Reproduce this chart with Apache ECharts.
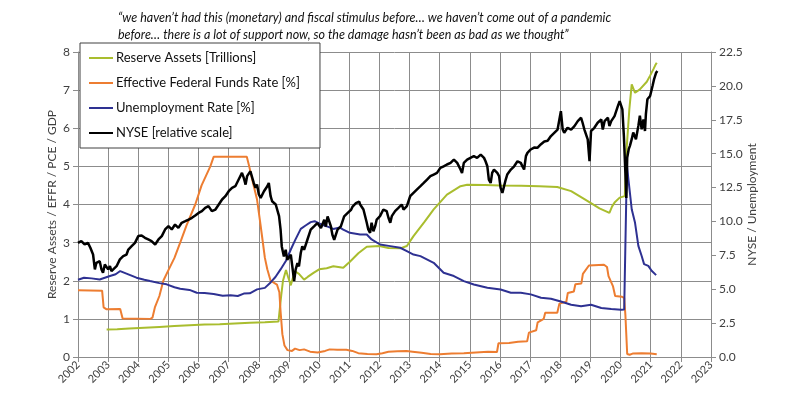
<!DOCTYPE html>
<html>
<head>
<meta charset="utf-8">
<script src="https://cdn.jsdelivr.net/npm/echarts@6/dist/echarts.min.js"></script>
<style>
  html, body { margin: 0; padding: 0; background: #fff; }
  #chart { width: 787px; height: 396px; }
</style>
</head>
<body>
<div id="chart"></div>
<script>
// [decimal year, value]
const reserveAssets = [
    [2002.95,0.72],[2003.3,0.73],[2003.7,0.75],[2004.2,0.77],[2004.7,0.79],[2005.2,0.81],[2005.7,0.83],
    [2006.2,0.85],[2006.7,0.86],[2007.2,0.88],[2007.7,0.9],[2008.2,0.91],[2008.65,0.93],[2008.7,0.97],
    [2008.74,1.6],[2008.8,2.0],[2008.9,2.28],[2008.97,2.1],[2009.06,1.88],[2009.12,2.05],[2009.2,2.25],
    [2009.33,2.18],[2009.5,2.03],[2009.62,2.1],[2009.8,2.2],[2010.0,2.3],[2010.25,2.33],[2010.47,2.38],
    [2010.8,2.34],[2011.02,2.5],[2011.3,2.72],[2011.58,2.89],[2012.0,2.91],[2012.3,2.86],[2012.69,2.85],
    [2012.91,2.91],[2013.13,3.17],[2013.5,3.55],[2013.8,3.87],[2014.24,4.26],[2014.69,4.48],[2014.91,4.52],
    [2015.5,4.51],[2016.0,4.5],[2016.7,4.49],[2017.3,4.48],[2017.9,4.46],[2018.36,4.35],[2018.91,4.09],
    [2019.3,3.9],[2019.63,3.78],[2019.72,3.95],[2019.8,4.05],[2019.97,4.18],[2020.14,4.22],[2020.2,5.45],
    [2020.29,6.49],[2020.37,7.15],[2020.48,6.93],[2020.64,7.02],[2020.87,7.22],[2020.98,7.38],[2021.09,7.55],
    [2021.15,7.65],[2021.2,7.72]
];

const fedFundsRate = [
    [2002.0,1.75],[2002.8,1.74],[2002.85,1.3],[2002.95,1.25],[2003.4,1.26],[2003.48,1.01],[2004.4,1.0],
    [2004.47,1.03],[2004.55,1.3],[2004.7,1.6],[2004.83,2.0],[2005.0,2.28],[2005.2,2.6],[2005.39,3.0],
    [2005.6,3.45],[2005.89,4.0],[2006.1,4.5],[2006.39,5.0],[2006.5,5.25],[2007.6,5.25],[2007.68,5.0],
    [2007.78,4.65],[2007.94,4.13],[2008.05,3.5],[2008.1,3.2],[2008.2,2.6],[2008.28,2.3],[2008.39,2.0],
    [2008.6,1.9],[2008.68,1.7],[2008.72,1.2],[2008.78,0.6],[2008.85,0.3],[2008.95,0.18],[2009.1,0.16],
    [2009.2,0.22],[2009.35,0.18],[2009.5,0.2],[2009.7,0.14],[2009.95,0.12],[2010.2,0.16],[2010.35,0.2],
    [2010.6,0.19],[2010.9,0.19],[2011.1,0.16],[2011.3,0.1],[2011.6,0.08],[2011.9,0.07],[2012.1,0.1],
    [2012.3,0.14],[2012.6,0.15],[2012.9,0.16],[2013.1,0.14],[2013.4,0.11],[2013.7,0.08],[2014.0,0.07],
    [2014.4,0.09],[2014.8,0.1],[2015.2,0.12],[2015.6,0.14],[2015.9,0.13],[2015.95,0.36],[2016.3,0.37],
    [2016.6,0.4],[2016.9,0.41],[2016.96,0.64],[2017.2,0.7],[2017.25,0.91],[2017.45,1.0],[2017.5,1.16],
    [2017.9,1.16],[2017.97,1.4],[2018.2,1.45],[2018.25,1.68],[2018.45,1.72],[2018.5,1.91],[2018.7,1.93],
    [2018.75,2.18],[2018.95,2.4],[2019.45,2.42],[2019.55,2.36],[2019.6,2.12],[2019.75,1.85],[2019.82,1.6],
    [2020.05,1.58],[2020.12,1.55],[2020.16,1.1],[2020.22,0.08],[2020.3,0.06],[2020.4,0.09],[2020.7,0.1],
    [2021.0,0.09],[2021.2,0.07]
];

const unemploymentRate = [
    [2002.0,5.7],[2002.2,5.85],[2002.45,5.8],[2002.72,5.72],[2003.06,5.97],[2003.25,6.1],[2003.4,6.34],
    [2003.67,6.1],[2003.94,5.85],[2004.2,5.7],[2004.39,5.6],[2004.7,5.45],[2004.94,5.36],[2005.2,5.15],
    [2005.39,5.03],[2005.7,4.95],[2005.94,4.74],[2006.2,4.72],[2006.5,4.65],[2006.8,4.52],[2007.06,4.55],
    [2007.3,4.5],[2007.5,4.68],[2007.7,4.7],[2007.94,4.99],[2008.2,5.1],[2008.39,5.5],[2008.55,5.9],
    [2008.72,6.46],[2008.9,7.1],[2009.06,7.93],[2009.2,8.6],[2009.39,9.45],[2009.55,9.7],[2009.72,9.95],
    [2009.85,10.02],[2010.0,9.85],[2010.24,9.65],[2010.47,9.45],[2010.69,9.55],[2010.8,9.4],[2011.02,9.16],
    [2011.36,9.04],[2011.58,9.04],[2011.74,8.67],[2012.02,8.3],[2012.36,8.18],[2012.69,8.06],[2012.91,7.81],
    [2013.13,7.56],[2013.36,7.44],[2013.8,6.95],[2014.13,6.21],[2014.47,5.97],[2014.8,5.6],[2015.13,5.35],
    [2015.58,5.11],[2016.02,4.98],[2016.36,4.74],[2016.69,4.74],[2017.02,4.62],[2017.36,4.37],[2017.69,4.3],
    [2018.02,4.1],[2018.36,3.86],[2018.69,3.74],[2019.02,3.86],[2019.36,3.62],[2019.69,3.54],[2020.02,3.49],
    [2020.12,3.5],[2020.17,3.6],[2020.21,14.2],[2020.26,13.1],[2020.37,10.9],[2020.48,9.9],[2020.59,8.2],
    [2020.7,7.45],[2020.78,6.85],[2020.92,6.72],[2021.03,6.36],[2021.18,6.04]
];

const nyseIndex = [
    [2002.0,8.42],[2002.11,8.55],[2002.22,8.3],[2002.33,8.42],[2002.41,8.06],[2002.5,7.56],[2002.56,6.46],
    [2002.61,6.95],[2002.67,6.83],[2002.72,7.07],[2002.78,6.46],[2002.83,6.21],[2002.89,6.83],[2002.94,6.95],
    [2003.0,6.46],[2003.06,6.7],[2003.11,6.34],[2003.17,6.21],[2003.28,6.7],[2003.39,7.2],[2003.5,7.44],
    [2003.61,7.56],[2003.67,7.93],[2003.78,8.18],[2003.89,8.42],[2004.0,8.92],[2004.11,8.96],[2004.22,8.79],
    [2004.33,8.67],[2004.44,8.55],[2004.56,8.3],[2004.67,8.67],[2004.78,8.92],[2004.89,9.41],[2005.0,9.65],
    [2005.11,9.41],[2005.22,9.77],[2005.33,9.53],[2005.44,9.9],[2005.56,10.02],[2005.67,10.14],[2005.78,10.27],
    [2005.89,10.44],[2006.0,10.63],[2006.11,10.76],[2006.22,11.0],[2006.33,11.13],[2006.44,10.76],[2006.56,10.88],
    [2006.67,11.25],[2006.78,11.62],[2006.89,11.86],[2007.0,12.23],[2007.11,12.48],[2007.22,12.6],[2007.33,13.09],
    [2007.39,12.97],[2007.44,13.58],[2007.5,13.21],[2007.56,12.72],[2007.61,13.34],[2007.67,13.46],[2007.72,13.7],
    [2007.78,13.58],[2007.83,12.84],[2007.89,12.48],[2007.94,12.72],[2008.0,11.99],[2008.06,11.74],[2008.11,11.86],
    [2008.17,12.23],[2008.28,12.6],[2008.33,12.84],[2008.39,11.86],[2008.44,11.49],[2008.56,11.25],[2008.61,11.13],
    [2008.67,10.39],[2008.72,9.41],[2008.76,8.16],[2008.83,7.42],[2008.89,7.91],[2008.94,7.18],[2009.06,7.55],
    [2009.11,6.68],[2009.17,5.6],[2009.22,6.44],[2009.28,6.93],[2009.33,6.68],[2009.39,7.67],[2009.44,8.16],
    [2009.5,7.91],[2009.61,8.65],[2009.72,9.39],[2009.83,9.63],[2009.94,9.88],[2010.06,9.51],[2010.17,10.12],
    [2010.22,9.63],[2010.28,10.37],[2010.39,9.63],[2010.44,9.02],[2010.5,8.65],[2010.61,9.39],[2010.72,9.63],
    [2010.83,10.37],[2010.94,10.61],[2011.06,10.86],[2011.11,11.1],[2011.22,11.35],[2011.33,11.47],[2011.36,11.25],
    [2011.41,11.37],[2011.47,10.88],[2011.52,10.76],[2011.58,9.9],[2011.63,9.41],[2011.69,9.16],[2011.74,9.9],
    [2011.8,9.28],[2011.86,9.65],[2011.91,10.14],[2012.02,10.39],[2012.13,10.88],[2012.19,11.0],[2012.24,10.76],
    [2012.3,10.27],[2012.36,9.9],[2012.41,10.39],[2012.52,10.76],[2012.63,11.0],[2012.74,11.25],[2012.8,10.88],
    [2012.91,11.13],[2013.02,11.86],[2013.13,12.11],[2013.24,12.35],[2013.36,12.6],[2013.47,12.84],[2013.58,13.09],
    [2013.69,13.34],[2013.8,13.46],[2013.91,13.58],[2014.02,13.95],[2014.13,14.07],[2014.24,14.2],[2014.36,14.32],
    [2014.47,14.56],[2014.52,14.69],[2014.58,14.32],[2014.63,14.44],[2014.69,13.83],[2014.74,13.58],[2014.8,14.32],
    [2014.86,14.2],[2014.91,14.56],[2015.02,14.69],[2015.13,14.81],[2015.24,14.69],[2015.36,14.93],[2015.47,14.69],
    [2015.52,14.44],[2015.58,14.07],[2015.63,13.09],[2015.69,12.84],[2015.74,13.58],[2015.8,13.83],[2015.91,13.58],
    [2015.97,13.34],[2016.02,12.48],[2016.08,12.11],[2016.13,12.23],[2016.19,13.09],[2016.24,13.46],[2016.36,13.83],
    [2016.47,14.07],[2016.58,14.44],[2016.69,14.32],[2016.74,14.08],[2016.8,13.83],[2016.86,14.82],[2016.91,15.06],
    [2017.02,15.31],[2017.13,15.45],[2017.24,15.43],[2017.36,15.7],[2017.47,15.9],[2017.58,15.95],[2017.69,16.3],
    [2017.8,16.54],[2017.91,16.78],[2017.97,17.52],[2018.02,18.14],[2018.08,16.78],[2018.13,16.54],[2018.24,16.91],
    [2018.36,16.78],[2018.47,17.03],[2018.58,17.4],[2018.69,17.65],[2018.74,17.28],[2018.8,16.78],[2018.91,16.05],
    [2018.97,14.45],[2019.02,16.66],[2019.13,16.91],[2019.24,17.28],[2019.36,17.52],[2019.41,16.78],[2019.47,17.4],
    [2019.58,17.65],[2019.63,17.03],[2019.69,17.4],[2019.8,17.77],[2019.91,18.51],[2019.97,18.88],[2020.02,18.75],
    [2020.06,18.26],[2020.11,16.29],[2020.16,13.58],[2020.19,11.74],[2020.22,14.7],[2020.27,15.33],[2020.31,15.58],
    [2020.37,16.07],[2020.42,16.56],[2020.51,16.07],[2020.59,17.05],[2020.64,17.8],[2020.7,16.8],[2020.76,17.52],
    [2020.81,16.67],[2020.84,17.91],[2020.89,19.01],[2020.98,19.25],[2021.06,19.99],[2021.11,20.48],[2021.18,20.97],
    [2021.22,21.1]
];

const seriesNames = [
    "Reserve Assets [Trillions]",
    "Effective Federal Funds Rate [%]",
    "Unemployment Rate [%]",
    "NYSE [relative scale]"
];

const titleText = "\u201cwe haven\u2019t had this (monetary) and fiscal stimulus before\u2026 we haven\u2019t come out of a pandemic\n" +
    "before\u2026 there is a lot of support now, so the damage hasn\u2019t been as bad as we thought\u201d";

const FONT = "Lato, 'Liberation Sans', sans-serif";
const GRID_COLOR = "#8c8c8c";
const TEXT_COLOR = "#404040";

const chart = echarts.init(document.getElementById("chart"));

function lineSeries(name, data, color, width, axis) {
    return {
        name: name,
        type: "line",
        yAxisIndex: axis,
        data: data,
        symbol: "none",
        lineStyle: { color: color, width: width },
        itemStyle: { color: color },
        z: 3
    };
}

chart.setOption({
    animation: false,
    textStyle: { fontFamily: FONT },
    title: {
        text: titleText,
        left: 113,
        top: 4,
        textStyle: {
            fontFamily: FONT,
            fontStyle: "italic",
            fontWeight: "normal",
            fontSize: 12.5,
            lineHeight: 17,
            color: "#111"
        }
    },
    legend: {
        orient: "vertical",
        left: 80,
        top: 43,
        padding: [8, 20, 8, 9],
        itemGap: 11,
        itemWidth: 24,
        itemHeight: 2,
        icon: "rect",
        backgroundColor: "#fff",
        borderColor: "#404040",
        borderWidth: 1,
        textStyle: { fontFamily: FONT, fontSize: 13, lineHeight: 14, color: "#111", padding: [0, 0, 0, -2] },
        data: seriesNames
    },
    grid: {
        left: 78,
        right: 76,
        top: 52,
        bottom: 39
    },
    xAxis: {
        type: "value",
        min: 2002,
        max: 2023,
        interval: 1,
        axisLine: { lineStyle: { color: GRID_COLOR } },
        axisTick: { show: true, length: 5, lineStyle: { color: GRID_COLOR } },
        splitLine: { show: true, lineStyle: { color: GRID_COLOR, width: 1 } },
        axisLabel: {
            rotate: 45,
            fontSize: 11,
            color: TEXT_COLOR,
            margin: 6,
            formatter: v => String(v)
        }
    },
    yAxis: [
        {
            type: "value",
            min: 0,
            max: 8,
            interval: 1,
            name: "Reserve Assets / EFFR / PCE / GDP",
            nameLocation: "middle",
            nameRotate: 90,
            nameGap: 20,
            nameMoveOverlap: false,
            nameTextStyle: { fontSize: 12, color: TEXT_COLOR },
            axisLine: { show: true, lineStyle: { color: GRID_COLOR } },
            axisTick: { show: true, length: 5, lineStyle: { color: GRID_COLOR } },
            splitLine: { show: true, lineStyle: { color: GRID_COLOR, width: 1 } },
            axisLabel: { fontSize: 12, color: TEXT_COLOR, margin: 8 }
        },
        {
            type: "value",
            min: 0,
            max: 22.5,
            interval: 2.5,
            position: "right",
            name: "NYSE / Unemployment",
            nameLocation: "middle",
            nameRotate: 90,
            nameGap: 35,
            nameMoveOverlap: false,
            nameTextStyle: { fontSize: 12, color: TEXT_COLOR },
            axisLine: { show: true, lineStyle: { color: GRID_COLOR } },
            axisTick: { show: true, length: 5, lineStyle: { color: GRID_COLOR } },
            splitLine: { show: false },
            axisLabel: {
                fontSize: 12,
                color: TEXT_COLOR,
                margin: 8,
                formatter: v => v.toFixed(1)
            }
        }
    ],
    series: [
        lineSeries(seriesNames[0], reserveAssets, "#a9bd2e", 2, 0),
        lineSeries(seriesNames[1], fedFundsRate, "#ed7d31", 2, 0),
        lineSeries(seriesNames[2], unemploymentRate, "#2e3192", 2, 1),
        lineSeries(seriesNames[3], nyseIndex, "#000000", 2.5, 1)
    ]
});
</script>
</body>
</html>
